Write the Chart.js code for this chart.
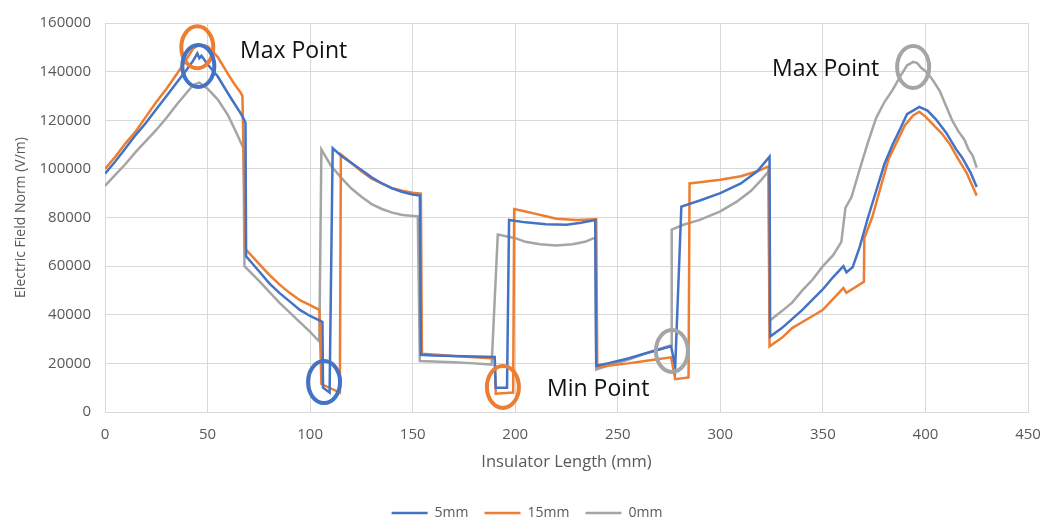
<!DOCTYPE html>
<html>
<head>
<meta charset="utf-8">
<script src="https://cdn.jsdelivr.net/npm/chart.js@4/dist/chart.umd.min.js"></script>
<style>
  html, body { margin: 0; padding: 0; background: #fff; }
  #wrap { width: 1043px; height: 520px; }
</style>
</head>
<body>
<div id="wrap"><canvas id="fieldChart"></canvas></div>
<script>
// Insulator length (mm) and electric field norm (V/m) for each series
const len5mm = [0, 5, 10, 15, 20, 25, 30, 35, 40, 43, 44, 45, 46, 47, 50, 55, 60, 63, 66, 68, 68.5, 68.8,
  75, 80, 85, 90, 95, 100, 105, 106, 106.3, 109.5, 111, 115, 120, 125, 130, 135, 140, 145, 150, 153.5,
  154, 160, 170, 180, 190, 190.5, 196, 197, 205, 215, 225, 232, 239, 239.5, 245, 255, 265, 276, 278,
  281, 290, 300, 310, 318, 324, 324.3, 330, 340, 350, 355, 360, 361.5, 364.5, 368, 372, 376, 380, 384,
  388, 391, 395, 397, 401, 405, 410, 415, 418, 422, 425];
const field5mm = [98000, 103000, 108500, 114000, 119000, 124500, 130000, 135500, 141000, 144500, 146000,
  147500, 145500, 146500, 143000, 138000, 131000, 127000, 123000, 120000, 119000, 64000,
  58000, 53000, 49000, 45500, 42000, 39500, 37500, 37000, 10000, 8000, 108500, 105500, 102500, 99500,
  96500, 94000, 92000, 90500, 89500, 89000,
  23500, 23200, 23000, 22800, 22600, 10000, 10000, 79000, 78000, 77200, 77000, 77800, 79000, 19000,
  20000, 22000, 24500, 27000, 18500,
  84500, 87000, 90000, 94000, 99000, 105000, 31000, 34500, 42000, 50500, 55500, 60000, 57500, 59500,
  68000, 80000, 91000, 102000, 110000, 117000, 122500, 124500, 125500, 124000, 120500, 115000, 108000,
  104500, 98500, 92500];

const len15mm = [0, 5, 10, 15, 20, 25, 30, 35, 40, 43, 46, 50, 55, 60, 63, 66, 67, 67.5, 68.5,
  75, 80, 85, 90, 95, 100, 104.5, 105.5, 114.5, 115, 120, 125, 130, 135, 140, 145, 150, 154,
  154.5, 160, 170, 180, 190, 190.5, 199, 199.5, 205, 210, 215, 220, 230, 239.5, 240, 245, 255, 265,
  276, 278, 284.5, 285, 290, 300, 310, 318, 323.5, 324, 330, 335, 340, 345, 350, 355, 360, 361.5,
  370, 370.2, 374, 378, 382, 386, 390, 394, 397, 400, 404, 408, 412, 416, 420, 425];
const field15mm = [100000, 105000, 110500, 115500, 121500, 127500, 133000, 139000, 145500, 149500,
  151000, 150500, 146000, 139000, 135000, 131500, 130000, 109000, 67000,
  61000, 56500, 52500, 49000, 46000, 44000, 42000, 11500, 8000, 106000, 102500, 99000, 96000, 94000,
  92000, 91000, 90200, 89800,
  24000, 23700, 23000, 22500, 22000, 7500, 8000, 83500, 82500, 81500, 80500, 79500, 79000, 79300,
  18500, 19000, 20000, 21200, 22500, 13500, 14200, 94000, 94500, 95500, 97000, 99000, 101000, 27000,
  30500, 34500, 37000, 39500, 42000, 46500, 51000, 49000, 53500, 71500, 80000, 92000, 104000, 111000,
  118000, 122000, 123500, 121500, 118000, 114500, 110000, 104000, 98500, 89000];

const len0mm = [0, 5, 10, 15, 20, 25, 30, 35, 40, 43, 46, 50, 55, 60, 64, 67.5, 68,
  75, 80, 85, 90, 95, 100, 104.5, 105.5, 110, 115, 120, 125, 130, 135, 140, 145, 152.5,
  153.5, 160, 170, 180, 188.5, 191.5, 200, 205, 212, 220, 228, 234, 239, 239.5, 245, 255, 265, 270,
  276, 276.3, 282, 290, 300, 308, 315, 320, 323.5, 324, 330, 335, 340, 345, 350, 355, 359, 361,
  364, 368, 372, 376, 380, 384, 388, 391, 394, 396, 398, 401, 404, 407, 410, 413, 416, 419, 421, 423, 425];
const field0mm = [93000, 97500, 102000, 107000, 111500, 116000, 121000, 126500, 131500, 134500,
  135500, 133000, 128500, 122000, 115000, 108500, 60000,
  54000, 49500, 45000, 41000, 37000, 33000, 29000, 108000, 101500, 96500, 92000, 88500, 85500, 83500,
  82000, 81000, 80500,
  21000, 20800, 20500, 20000, 19500, 73000, 71500, 70000, 69000, 68500, 69000, 70000, 71700, 17500,
  19000, 21500, 24500, 25800,
  27500, 75000, 77000, 79000, 82500, 86500, 91000, 95500, 99000, 37500, 41500, 45000, 50000, 54500,
  60000, 64500, 70000, 84000, 88500, 100000, 111000, 121000, 127500, 132500, 138500, 142500, 144000,
  143500, 141500, 139500, 136000, 132000, 126000, 120000, 115500, 112000, 108000, 105500, 100500];

const seriesNames = ['5mm', '15mm', '0mm'];
const seriesColors = ['#4472C4', '#ED7D31', '#A5A5A5'];

// Circled points: position in data units and which series colour
const markX = [45, 45.5, 106.8, 194, 276.4, 394];
const markY = [150000, 142300, 12300, 10300, 25100, 141900];
const markSeries = [1, 0, 0, 1, 2, 2];

// Text notes, left / baseline in data units
const noteText = ['Max Point', 'Max Point', 'Min Point'];
const noteX = [65.8, 325.2, 215.5];
const noteY = [145600, 138200, 6600];

function toPoints(xs, ys) {
    return xs.map((x, i) => ({ x: x, y: ys[i] }));
}

const notesPlugin = {
    id: 'notes',
    afterLayout(chart) {
        // legend sits a little right of the canvas centre, under the plot area
        const lg = chart.legend;
        if (lg) { lg.left += 24; lg.right += 2; }
    },
    afterDatasetsDraw(chart) {
        const ctx = chart.ctx;
        const xs = chart.scales.x, ys = chart.scales.y;
        ctx.save();
        ctx.lineWidth = 4;
        markX.forEach((mx, i) => {
            ctx.strokeStyle = seriesColors[markSeries[i]];
            ctx.beginPath();
            ctx.ellipse(xs.getPixelForValue(mx), ys.getPixelForValue(markY[i]), 16, 21, 0, 0, Math.PI * 2);
            ctx.stroke();
        });
        ctx.fillStyle = '#111';
        ctx.font = '23px "Open Sans"';
        ctx.textBaseline = 'alphabetic';
        ctx.textAlign = 'left';
        noteText.forEach((t, i) => {
            ctx.fillText(t, xs.getPixelForValue(noteX[i]), ys.getPixelForValue(noteY[i]));
        });
        ctx.restore();
    }
};

const tickColor = '#595959';
const gridColor = '#d9d9d9';
const plain = v => String(v);

new Chart(document.getElementById('fieldChart'), {
    type: 'scatter',
    data: {
        datasets: [
            [len5mm, field5mm],
            [len15mm, field15mm],
            [len0mm, field0mm]
        ].map((s, i) => ({
            label: seriesNames[i],
            data: toPoints(s[0], s[1]),
            showLine: true,
            borderColor: seriesColors[i],
            backgroundColor: seriesColors[i],
            borderWidth: 2.5,
            pointRadius: 0,
            tension: 0
        }))
    },
    options: {
        responsive: true,
        maintainAspectRatio: false,
        animation: false,
        layout: { padding: { left: 0, top: 21, right: 15, bottom: -10 } },
        scales: {
            x: {
                type: 'linear',
                min: 0,
                max: 450,
                afterFit: s => { s.height = 78; s.paddingRight = 0; },
                ticks: { stepSize: 50, color: tickColor, padding: 14, callback: plain,
                    font: { family: 'Open Sans', size: 15 } },
                grid: { color: gridColor, drawTicks: false },
                border: { color: gridColor },
                title: {
                    display: true, text: 'Insulator Length (mm)', color: tickColor,
                    font: { family: 'Open Sans', size: 16.5 }, padding: { top: 0, bottom: 18 }
                }
            },
            y: {
                min: 0,
                max: 160000,
                afterFit: s => { s.width = 105; },
                ticks: { stepSize: 20000, color: tickColor, padding: 14, callback: plain,
                    font: { family: 'Open Sans', size: 15 } },
                grid: { color: gridColor, drawTicks: false },
                border: { color: gridColor },
                title: {
                    display: true, text: 'Electric Field Norm (V/m)', color: tickColor,
                    font: { family: 'Open Sans', size: 14 }, padding: { top: 13, bottom: 0 }
                }
            }
        },
        plugins: {
            legend: {
                position: 'bottom',
                labels: {
                    usePointStyle: true,
                    pointStyle: 'line',
                    pointStyleWidth: 36,
                    boxHeight: 14,
                    padding: 16,
                    color: tickColor,
                    font: { family: 'Open Sans', size: 14 }
                }
            },
            tooltip: { enabled: false }
        }
    },
    plugins: [notesPlugin]
});
</script>
</body>
</html>
